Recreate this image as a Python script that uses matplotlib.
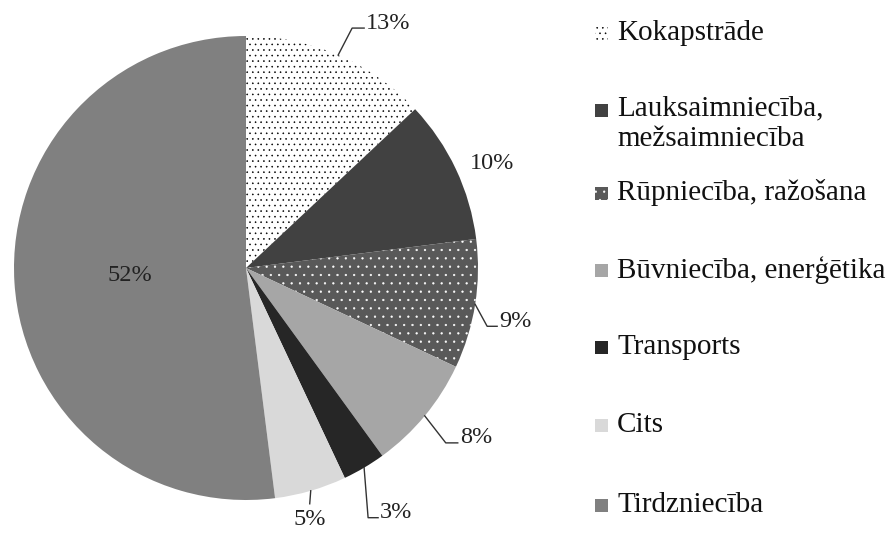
import matplotlib.pyplot as plt
import matplotlib.patches as mpatches
import numpy as np

plt.rcParams['font.family'] = ['Liberation Serif', 'DejaVu Serif']
plt.rcParams['hatch.linewidth'] = 0.4

# data
sectors = ['Kokapstrāde', 'Lauksaimniecība,\nmežsaimniecība', 'Rūpniecība, ražošana',
           'Būvniecība, enerģētika', 'Transports', 'Cits', 'Tirdzniecība']
shares = [13, 10, 9, 8, 3, 5, 52]
colors = ['#ffffff', '#414141', '#595959', '#a6a6a6', '#262626', '#d9d9d9', '#808080']
hatches = ['...', None, '..', None, None, None, None]
hatch_cols = ['#000000', '#414141', '#ffffff', '#a6a6a6', '#262626', '#d9d9d9', '#808080']

fig = plt.figure(figsize=(8.89, 5.35), dpi=100)
ax = fig.add_axes([0, 0, 1, 1])

cx, cy, R = 246, 267, 232
wedges, _ = ax.pie(shares, center=(cx, cy), radius=R, colors=colors,
                   startangle=90, counterclock=False, frame=True,
                   wedgeprops=dict(linewidth=0))
ax.set_xlim(0, 889)
ax.set_ylim(0, 535)
ax.set_aspect('equal')
ax.axis('off')
for w, h, hc in zip(wedges, hatches, hatch_cols):
    w.set_edgecolor(hc)
    if h:
        w.set_hatch(h)

# label placement: (elbow dx, elbow dy, horizontal length) in pixels
leaders = [(14, 27, 12), None, (12, -22, 10), (21, -27, 12), (4, -50, 10), (-1, -13, 0), None]
txtcol = '#222222'
fs = 17.5
for i, w in enumerate(wedges):
    mid = np.deg2rad((w.theta1 + w.theta2) / 2)
    ex, ey = cx + R * np.cos(mid), cy + R * np.sin(mid)
    lab = '%d%%' % shares[i]
    if i == 6:
        ax.text(cx + 0.5 * R * np.cos(mid), cy + 0.5 * R * np.sin(mid), lab,
                ha='center', va='center', fontsize=fs, color=txtcol)
        continue
    if leaders[i] is None:
        ax.text(ex + 14, ey + 6, lab, ha='left', va='center', fontsize=fs, color=txtcol)
        continue
    dx, dy, hl = leaders[i]
    x1, y1 = ex + dx, ey + dy
    if hl:
        ax.plot([ex, x1, x1 + hl], [ey, y1, y1], color='#333333', lw=1.0)
        ax.text(x1 + hl + 2, y1 + 5, lab, ha='left', va='center', fontsize=fs, color=txtcol)
    else:
        ax.plot([ex, x1], [ey, y1], color='#333333', lw=1.0)
        ax.text(x1, y1 - 16, lab, ha='center', va='center', fontsize=fs, color=txtcol)

# legend drawn by hand
leg_y = [33, 110, 193, 270, 347, 425, 505]
for i, name in enumerate(sectors):
    yy = 535 - leg_y[i]
    sq = mpatches.Rectangle((595, yy - 7), 13, 13, facecolor=colors[i],
                            edgecolor=hatch_cols[i], linewidth=0, hatch=hatches[i])
    ax.add_patch(sq)
    if i == 1:
        ax.text(617, yy + 15, name, ha='left', va='top', fontsize=21,
                color='#111111', linespacing=1.25)
    else:
        ax.text(617, yy, name, ha='left', va='center', fontsize=21, color='#111111')

plt.savefig('out.png', dpi=100)
